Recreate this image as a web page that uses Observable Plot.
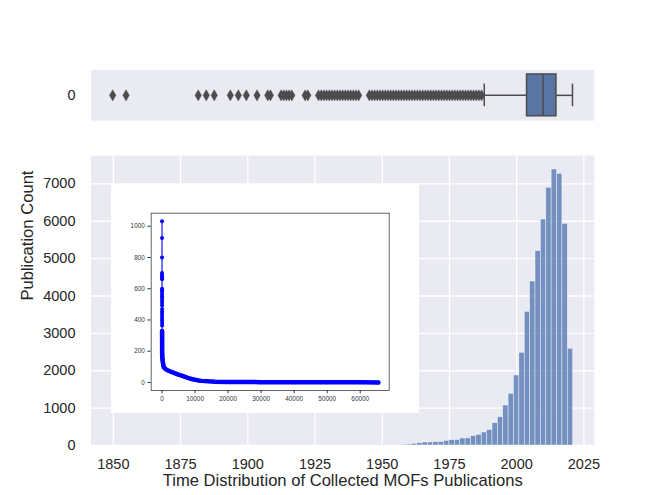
<!DOCTYPE html>
<html><head><meta charset="utf-8">
<script src="https://cdn.jsdelivr.net/npm/d3@7"></script>
<script src="https://cdn.jsdelivr.net/npm/@observablehq/plot@0.6"></script>
<style>
body{margin:0;background:#fff;}
#wrap{position:relative;width:648px;height:495px;overflow:hidden;background:#fff;}
</style></head><body><div id="wrap"></div>
<script>
// ---------- data ----------
// box plot of publication years
const outlierYears = [1849, 1854, 1881, 1884, 1887, 1893, 1896, 1899, 1903,
  1907, 1908,
  1912, 1913, 1914, 1915, 1916,
  1921, 1922,
  1926, 1927, 1928, 1929, 1930, 1931, 1932, 1933, 1934, 1935, 1936, 1937, 1938, 1939, 1940, 1941,
  1945, 1946, 1947, 1948, 1949, 1950, 1951, 1952, 1953, 1954, 1955, 1956, 1957, 1958, 1959, 1960,
  1961, 1962, 1963, 1964, 1965, 1966, 1967, 1968, 1969, 1970, 1971, 1972, 1973, 1974, 1975, 1976,
  1977, 1978, 1979, 1980, 1981, 1982, 1983, 1984, 1985, 1986, 1987];
const whiskerLow = 1988, q1 = 2004, median = 2010, q3 = 2015, whiskerHigh = 2021;

// histogram (2-year bins)
const binWidth = 2;
const binStart = [1947, 1949, 1951, 1953, 1955, 1957, 1959, 1961, 1963, 1965, 1967, 1969, 1971,
  1973, 1975, 1977, 1979, 1981, 1983, 1985, 1987, 1989, 1991, 1993, 1995, 1997, 1999, 2001,
  2003, 2005, 2007, 2009, 2011, 2013, 2015, 2017, 2019];
const binCount = [5, 8, 8, 12, 15, 20, 27, 45, 62, 80, 82, 89, 98,
  125, 143, 145, 187, 190, 250, 285, 348, 415, 597, 757, 1070, 1383, 1873, 2480,
  3577, 4387, 5198, 6046, 6894, 7384, 7268, 5931, 2587];
const yearTicks = [1850, 1875, 1900, 1925, 1950, 1975, 2000, 2025];
const countTicks = [0, 1000, 2000, 3000, 4000, 5000, 6000, 7000];

// inset: sorted counts
const insetRank = [0, 1, 2, 3, 4, 5, 6, 7, 8, 9, 10, 11, 12, 13, 14, 15, 16, 17, 18, 19,
  20, 21, 22, 23, 24, 25, 26, 27, 28, 29, 30, 31, 32, 33, 34, 35, 36, 37, 38, 39,
  50, 70, 100, 140, 190, 250, 320, 400, 500,
  600, 1000, 1500, 2000, 3000, 4000, 5000, 6000, 7000, 8000, 9000, 10000, 11000, 12000,
  14000, 16000, 20000, 30000, 40000, 50000, 60000, 65500];
const insetValue = [1032, 925, 800, 700, 690, 680, 670, 660, 600, 590, 580, 565, 550, 540, 525, 510, 495, 470, 455, 440,
  425, 410, 395, 380, 365, 330, 320, 310, 300, 290, 280, 270, 260, 250, 240, 230, 220, 210, 200, 190,
  180, 170, 160, 150, 140, 130, 120, 110, 100,
  95, 88, 80, 75, 66, 58, 50, 43, 35, 28, 22, 17, 13, 10,
  7, 5, 3, 2, 1, 1, 1, 0];
const insetXTicks = [0, 10000, 20000, 30000, 40000, 50000, 60000];
const insetYTicks = [0, 200, 400, 600, 800, 1000];

// ---------- drawing ----------
const FONT = "'Liberation Sans', Arial, sans-serif";
const INK = "#262626";
const BG = "#EAEAF2";
const GRAY = "#4C4C4C";
const fmt = d => String(d);
const wrap = document.getElementById("wrap");

// box plot
const boxRow = [{lo: whiskerLow, q1, med: median, q3, hi: whiskerHigh}];
const boxPlot = Plot.plot({
  width: 648, height: 130,
  marginLeft: 90.8, marginRight: 54.1, marginTop: 69.5, marginBottom: 9.8,
  x: {domain: [1841, 2029.2], axis: null},
  y: {domain: [-0.5, 0.5], axis: null},
  style: {position: "absolute", left: "0px", top: "0px", background: "transparent", fontFamily: FONT, overflow: "visible"},
  marks: [
    Plot.frame({fill: BG, stroke: null}),
    Plot.axisY([0], {tickSize: 0, tickPadding: 15.7, fontSize: 14.5, color: INK, label: null, tickFormat: fmt}),
    Plot.ruleY(boxRow, {y: () => 0, x1: "lo", x2: "q1", stroke: GRAY, strokeWidth: 1.5}),
    Plot.ruleY(boxRow, {y: () => 0, x1: "q3", x2: "hi", stroke: GRAY, strokeWidth: 1.5}),
    Plot.ruleX([whiskerLow, whiskerHigh], {x: d => d, y1: () => -0.223, y2: () => 0.223, stroke: GRAY, strokeWidth: 1.5}),
    Plot.rect(boxRow, {x1: "q1", x2: "q3", y1: () => -0.412, y2: () => 0.412, fill: "#5875A4", stroke: GRAY, strokeWidth: 1.5, inset: 0}),
    Plot.ruleX(boxRow, {x: "med", y1: () => -0.412, y2: () => 0.412, stroke: GRAY, strokeWidth: 1.5}),
    Plot.dot(outlierYears, {x: d => d, y: () => 0, symbol: "diamond", r: 3.4, fill: GRAY, stroke: GRAY, strokeWidth: 0.4})
  ]
});
wrap.appendChild(boxPlot);

// histogram
const bins = binStart.map((s, i) => ({x1: s, x2: s + binWidth, count: binCount[i]}));
const hist = Plot.plot({
  width: 648, height: 495,
  marginLeft: 90.5, marginRight: 54.1, marginTop: 155.2, marginBottom: 50,
  x: {domain: [1841.7, 2028.9]},
  y: {domain: [0, 7753]},
  style: {position: "absolute", left: "0px", top: "0px", background: "transparent", fontFamily: FONT, overflow: "visible"},
  marks: [
    Plot.frame({fill: BG, stroke: null}),
    Plot.gridX(yearTicks, {stroke: "white", strokeOpacity: 1, strokeWidth: 1.3}),
    Plot.gridY(countTicks, {stroke: "white", strokeOpacity: 1, strokeWidth: 1.3}),
    Plot.rectY(bins, {x1: "x1", x2: "x2", y: "count", fill: "#4C72B0", fillOpacity: 0.75, stroke: "white", strokeOpacity: 0.7, strokeWidth: 0.6, inset: 0}),
    Plot.axisX(yearTicks, {tickSize: 0, tickPadding: 12.8, fontSize: 14.5, color: INK, label: null, tickFormat: fmt}),
    Plot.axisY(countTicks, {tickSize: 0, tickPadding: 15.5, fontSize: 14.5, color: INK, label: null, tickFormat: fmt}),
    Plot.text(["Time Distribution of Collected MOFs Publications"], {frameAnchor: "bottom", lineAnchor: "middle", dy: 35, fontSize: 16.6, fill: INK}),
    Plot.text(["Publication Count"], {frameAnchor: "left", lineAnchor: "middle", rotate: -90, dx: -63.8, fontSize: 16.6, fill: INK})
  ]
});
wrap.appendChild(hist);

// inset
const pts = insetRank.map((r, i) => ({rank: r, value: insetValue[i]}));
const thick = pts.filter(d => d.value <= 330);
const inset = Plot.plot({
  width: 308, height: 229,
  marginLeft: 39.7, marginRight: 30.3, marginTop: 28.7, marginBottom: 23,
  x: {domain: [-3275, 68775]},
  y: {domain: [-51.6, 1083.6]},
  style: {position: "absolute", left: "111px", top: "184px", background: "white", fontFamily: FONT, overflow: "visible"},
  marks: [
    Plot.line(pts, {x: "rank", y: "value", stroke: "blue", strokeWidth: 1.1}),
    Plot.line(thick, {x: "rank", y: "value", stroke: "blue", strokeWidth: 4.5, strokeLinecap: "round", strokeLinejoin: "round"}),
    Plot.dot(pts, {x: "rank", y: "value", r: 2, fill: "blue"}),
    Plot.frame({stroke: "#555", strokeWidth: 0.9}),
    Plot.axisX(insetXTicks, {tickSize: 3.3, tickPadding: 2.7, fontSize: 6.4, color: "#333", label: null, tickFormat: fmt}),
    Plot.axisY(insetYTicks, {tickSize: 3.3, tickPadding: 3.1, fontSize: 6.4, color: "#333", label: null, tickFormat: fmt})
  ]
});
wrap.appendChild(inset);
</script>
</body></html>
